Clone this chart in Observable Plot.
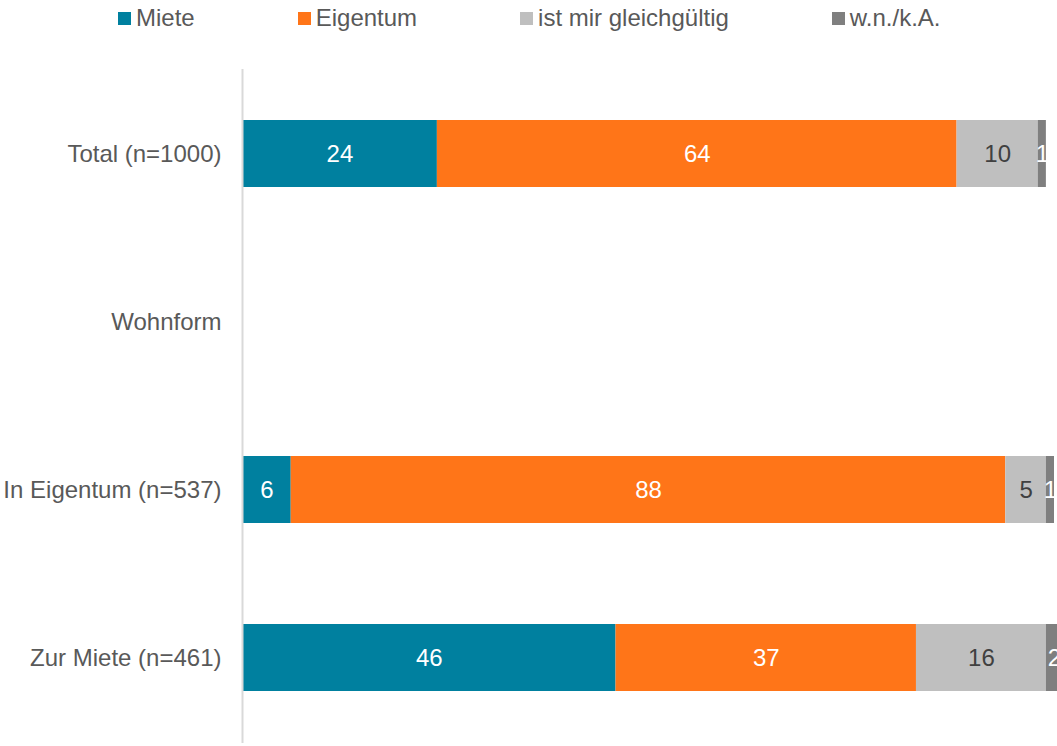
<!DOCTYPE html>
<html>
<head>
<meta charset="utf-8">
<script src="https://cdn.jsdelivr.net/npm/d3@7"></script>
<script src="https://cdn.jsdelivr.net/npm/@observablehq/plot@0.6"></script>
<style>
  body { margin: 0; background: #fff; font-family: "Liberation Sans", Arial, sans-serif; }
  #legend { height: 36px; display: flex; align-items: center; padding-left: 118px; box-sizing: border-box; font-size: 24px; color: #595959; }
  .item { display: flex; align-items: center; margin-right: 103px; }
  .sw { width: 13px; height: 13px; margin-right: 5px; }
  #chart { margin-top: 4px; }
  svg { display: block; }
</style>
</head>
<body>
<div id="legend"></div>
<div id="chart"></div>
<script>
const categories = ["Total (n=1000)", "Wohnform", "In Eigentum (n=537)", "Zur Miete (n=461)"];
const responses = ["Miete", "Eigentum", "ist mir gleichgültig", "w.n./k.A."];
const colors = ["#00809f", "#ff7518", "#bfbfbf", "#7f7f7f"];
const labelColors = ["#ffffff", "#ffffff", "#404040", "#ffffff"];
const valMiete = [24, null, 6, 46];
const valEigentum = [64, null, 88, 37];
const valEgal = [10, null, 5, 16];
const valWnka = [1, null, 1, 2];

const series = [valMiete, valEigentum, valEgal, valWnka];
const data = [];
categories.forEach((c, i) => {
  responses.forEach((r, j) => {
    const v = series[j][i];
    if (v != null) data.push({cat: c, resp: r, value: v, lc: labelColors[j]});
  });
});

const legend = document.getElementById("legend");
responses.forEach((r, j) => {
  const it = document.createElement("div");
  it.className = "item";
  it.innerHTML = `<div class="sw" style="background:${colors[j]}"></div><span>${r}</span>`;
  legend.appendChild(it);
});

const chart = Plot.plot({
  width: 1057,
  height: 706,
  marginTop: 29,
  marginBottom: 3,
  marginLeft: 242,
  marginRight: 3,
  style: {fontFamily: "Liberation Sans, Arial, sans-serif", fontSize: "24px", color: "#595959", background: "#fff"},
  x: {domain: [0, 100], axis: null},
  y: {domain: categories, paddingInner: 0.6, paddingOuter: 0.3, label: null},
  color: {domain: responses, range: colors},
  marks: [
    Plot.barX(data, Plot.stackX({x: "value", y: "cat", fill: "resp", z: "resp", order: responses})),
    Plot.text(data, Plot.stackX({x: "value", y: "cat", z: "resp", order: responses, text: d => String(d.value), fill: "lc", fontSize: 24})),
    Plot.ruleX([0], {stroke: "#d9d9d9", strokeWidth: 2}),
    Plot.axisY({tickSize: 0, tickPadding: 21, fill: "#595959", fontSize: 24, label: null})
  ]
});
document.getElementById("chart").appendChild(chart);
</script>
</body>
</html>
